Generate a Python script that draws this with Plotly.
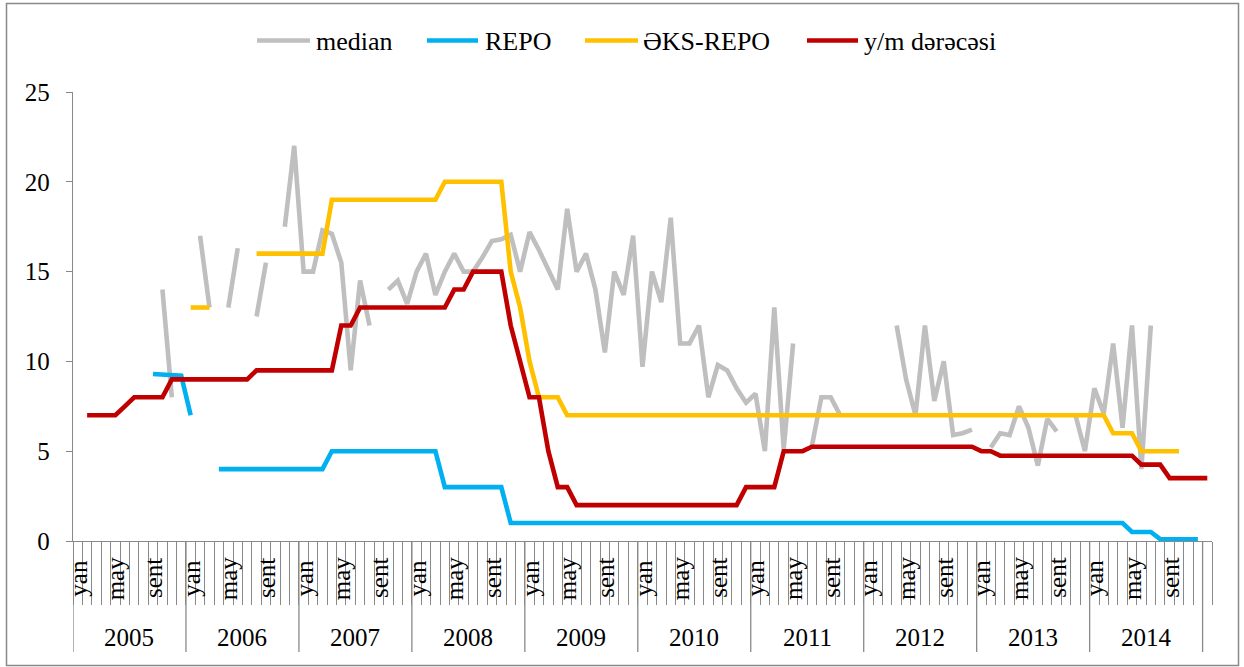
import plotly.graph_objects as go

# ---------------- data ----------------
years = [2005, 2006, 2007, 2008, 2009, 2010, 2011, 2012, 2013, 2014]
month_names = ["yan", "fev", "mar", "apr", "may", "iyn", "iyl", "avq", "sent", "okt", "noy", "dek"]
shown_months = ["yan", "may", "sent"]
extra_category = "yan 2015"

N = None
median = [
    N, N, N, N, N, N, N, N, N, 14, 8, N,                          # 2005
    N, 17, 13, N, 13, 16.3, N, 12.5, 15.5, N, 17.5, 22,           # 2006
    15, 15, 17.3, 17.1, 15.5, 9.5, 14.5, 12, N, 14, 14.5, 13.2,   # 2007
    15, 16, 13.7, 15, 16, 15, 15, 15.8, 16.7, 16.8, 17.05, 15,    # 2008
    17.2, 16.2, 15.1, 14, 18.5, 15, 16, 14, 10.5, 15, 13.7, 17,   # 2009
    9.7, 15, 13.3, 18, 11, 11, 12, 8, 9.8, 9.5, 8.5, 7.7,         # 2010
    8.2, 5, 13, 5.1, 11, N, 5.3, 8, 8, 7, N, N,                   # 2011
    N, N, N, 12, 9, 7, 12, 7.8, 10, 5.9, 6, 6.2,                  # 2012
    N, 5.2, 6, 5.9, 7.5, 6.3, 4.2, 6.8, 6.1, N, 7, 5,             # 2013
    8.5, 7.1, 11, 6.3, 12, 4, 12, N, N, N, N, N,                  # 2014
    N,                                                            # 2015
]
repo = [
    N, N, N, N, N, N, N, N, 9.3, 9.27, 9.23, 9.2,
    7, N, N, 4, 4, 4, 4, 4, 4, 4, 4, 4,
    4, 4, 4, 5, 5, 5, 5, 5, 5, 5, 5, 5,
    5, 5, 5, 3, 3, 3, 3, 3, 3, 3, 1, 1,
    1, 1, 1, 1, 1, 1, 1, 1, 1, 1, 1, 1,
    1, 1, 1, 1, 1, 1, 1, 1, 1, 1, 1, 1,
    1, 1, 1, 1, 1, 1, 1, 1, 1, 1, 1, 1,
    1, 1, 1, 1, 1, 1, 1, 1, 1, 1, 1, 1,
    1, 1, 1, 1, 1, 1, 1, 1, 1, 1, 1, 1,
    1, 1, 1, 1, 0.5, 0.5, 0.5, 0.1, 0.1, 0.1, 0.1, 0.1,
    N,
]
eks_repo = [
    N, N, N, N, N, N, N, N, N, N, N, N,
    13, 13, 13, N, N, N, N, 16, 16, 16, 16, 16,
    16, 16, 16, 19, 19, 19, 19, 19, 19, 19, 19, 19,
    19, 19, 19, 20, 20, 20, 20, 20, 20, 20, 15, 13,
    10, 8, 8, 8, 7, 7, 7, 7, 7, 7, 7, 7,
    7, 7, 7, 7, 7, 7, 7, 7, 7, 7, 7, 7,
    7, 7, 7, 7, 7, 7, 7, 7, 7, 7, 7, 7,
    7, 7, 7, 7, 7, 7, 7, 7, 7, 7, 7, 7,
    7, 7, 7, 7, 7, 7, 7, 7, 7, 7, 7, 7,
    7, 7, 6, 6, 6, 5, 5, 5, 5, 5, N, N,
    N,
]
ym_rate = [
    N, 7, 7, 7, 7, 7.5, 8, 8, 8, 8, 9, 9,
    9, 9, 9, 9, 9, 9, 9, 9.5, 9.5, 9.5, 9.5, 9.5,
    9.5, 9.5, 9.5, 9.5, 12, 12, 13, 13, 13, 13, 13, 13,
    13, 13, 13, 13, 14, 14, 15, 15, 15, 15, 12, 10,
    8, 8, 5, 3, 3, 2, 2, 2, 2, 2, 2, 2,
    2, 2, 2, 2, 2, 2, 2, 2, 2, 2, 2, 3,
    3, 3, 3, 5, 5, 5, 5.25, 5.25, 5.25, 5.25, 5.25, 5.25,
    5.25, 5.25, 5.25, 5.25, 5.25, 5.25, 5.25, 5.25, 5.25, 5.25, 5.25, 5.25,
    5, 5, 4.75, 4.75, 4.75, 4.75, 4.75, 4.75, 4.75, 4.75, 4.75, 4.75,
    4.75, 4.75, 4.75, 4.75, 4.75, 4.25, 4.25, 4.25, 3.5, 3.5, 3.5, 3.5,
    3.5,
]

series_names = ["median", "REPO", "ƏKS-REPO", "y/m dərəcəsi"]
series_values = [median, repo, eks_repo, ym_rate]
series_colors = ["#BFBFBF", "#00B0F0", "#FFC000", "#C00000"]

categories = [f"{m} {y}" for y in years for m in month_names] + [extra_category]
x_pos = list(range(len(categories)))

# ---------------- figure ----------------
FONT = "Liberation Serif"
AX = "#898989"
W, H = 1244, 667
ML, MR, MT, MB = 73, 32, 92, 126
PW, PH = W - ML - MR, H - MT - MB


def px_y(Y):
    return (H - MB - Y) / PH


def px_x(X):
    return (X - ML) / PW


fig = go.Figure()
for name, vals, color in zip(series_names, series_values, series_colors):
    fig.add_trace(go.Scatter(
        x=x_pos, y=vals, name=name, mode="lines",
        line=dict(color=color, width=4.6),
        connectgaps=False, showlegend=False,
        text=categories, hovertemplate="%{text}: %{y}<extra>" + name + "</extra>",
    ))

annotations = []
for i, cat in enumerate(categories):
    mon = cat.split(" ")[0]
    if mon in shown_months and i < len(years) * 12:
        annotations.append(dict(
            x=i, xref="x", y=px_y(578), yref="paper", text=mon, showarrow=False,
            textangle=-90, xanchor="center", yanchor="middle",
            font=dict(family=FONT, size=25, color="black"),
        ))
for k, yr in enumerate(years):
    annotations.append(dict(
        x=k * 12 + 5.5, xref="x", y=px_y(637), yref="paper", text=str(yr),
        showarrow=False, xanchor="center", yanchor="middle",
        font=dict(family=FONT, size=25, color="black"),
    ))

shapes = []
for k in range(len(years) + 1):
    shapes.append(dict(
        type="line", xref="x", yref="paper", x0=k * 12 - 0.5, x1=k * 12 - 0.5,
        y0=0, y1=px_y(652), line=dict(color=AX, width=1.3),
    ))
shapes.append(dict(
    type="rect", xref="paper", yref="paper",
    x0=px_x(6.5), x1=px_x(1238.5), y0=px_y(665.5), y1=px_y(3.5),
    line=dict(color=AX, width=1.5), fillcolor="rgba(0,0,0,0)", layer="below",
))

# legend (line sample + label), positioned like the original chart
legend_x = [(257, 310, 314), (427, 478, 483), (585, 638, 641), (807, 858, 862)]
for (lx0, lx1, tx), name, color in zip(legend_x, series_names, series_colors):
    shapes.append(dict(
        type="line", xref="paper", yref="paper",
        x0=px_x(lx0), x1=px_x(lx1), y0=px_y(40.5), y1=px_y(40.5),
        line=dict(color=color, width=4.6),
    ))
    annotations.append(dict(
        x=px_x(tx), xref="paper", y=px_y(41), yref="paper", text=name,
        showarrow=False, xanchor="left", yanchor="middle",
        font=dict(family=FONT, size=26, color="black"),
    ))

fig.update_layout(
    width=W, height=H,
    margin=dict(l=ML, r=MR, t=MT, b=MB, pad=0),
    paper_bgcolor="white", plot_bgcolor="white",
    font=dict(family=FONT, size=25, color="black"),
    showlegend=False,
    xaxis=dict(
        range=[-0.5, len(categories) - 0.5],
        tickmode="array", tickvals=[i - 0.5 for i in range(len(categories) + 1)],
        showticklabels=False, ticks="outside", ticklen=63, tickwidth=1.3, tickcolor=AX,
        showline=True, linecolor=AX, linewidth=1.3,
        showgrid=False, zeroline=False, fixedrange=True,
    ),
    yaxis=dict(
        range=[0, 25], tickmode="array", tickvals=[0, 5, 10, 15, 20, 25],
        ticks="outside", ticklen=6, tickwidth=1.3, tickcolor=AX,
        showline=True, linecolor=AX, linewidth=1.3,
        showgrid=False, zeroline=False,
        tickfont=dict(family=FONT, size=25, color="black"),
        ticklabelstandoff=11,
    ),
    annotations=annotations,
    shapes=shapes,
)

fig.write_html(
    "out.html",
    config={"displayModeBar": False},
    post_script="document.body.style.margin='0px';document.body.style.padding='0px';"
                "document.body.style.overflow='hidden';",
)
